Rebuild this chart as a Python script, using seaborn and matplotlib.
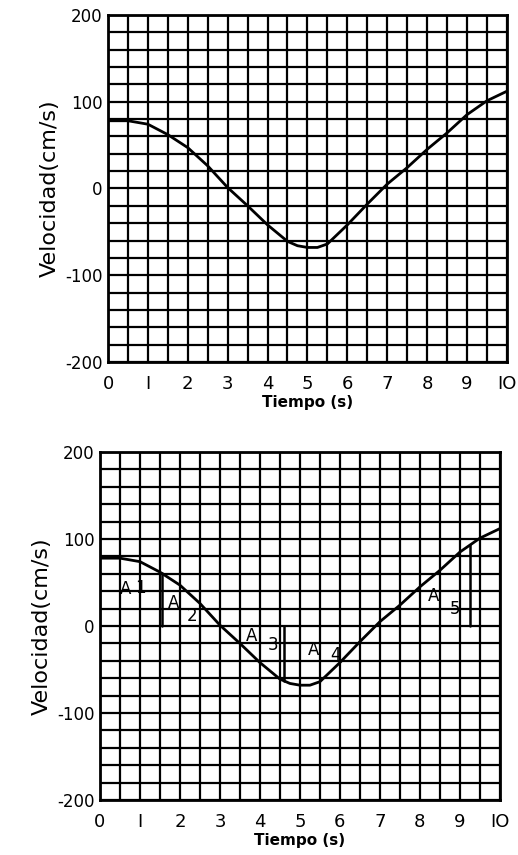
import numpy as np
import pandas as pd
import seaborn as sns
import matplotlib.pyplot as plt

# velocity curve (0.5 s steps, plus a few extra near the minimum)
tiempo = [0, 0.5, 1, 1.5, 2, 2.5, 3, 3.5, 4, 4.5, 4.75, 5, 5.25, 5.5, 5.75,
          6, 6.5, 7, 7.5, 8, 8.5, 9, 9.5, 10]
velocidad = [78, 78, 74, 62, 47, 26, 1, -20, -42, -61, -66, -68, -68, -64, -53,
             -42, -18, 5, 24, 45, 64, 85, 101, 112]

# area boundaries and labels for the lower panel
limites = [1.55, 4.6, 9.25]
area_names = ["A", "A", "A", "A", "A"]
area_nums = ["1", "2", "3", "4", "5"]
area_t = [0.63, 1.83, 3.8, 5.33, 8.33]
area_v = [43, 26, -12, -28, 34]
num_t = [1.0, 2.3, 4.33, 5.88, 8.88]
num_v = [44, 11, -22, -33, 20]

x_ticks = list(range(0, 11))
x_labels = ["0", "I", "2", "3", "4", "5", "6", "7", "8", "9", "IO"]
y_ticks = [-200, -100, 0, 100, 200]
y_labels = ["-200", "-100", "0", "100", "200"]

df = pd.DataFrame({"t": tiempo, "v": velocidad})

sns.set_style("white")
plt.rcParams['font.family'] = ['DejaVu Sans']
plt.rcParams['text.color'] = 'black'
plt.rcParams['axes.labelcolor'] = 'black'
plt.rcParams['xtick.color'] = 'black'
plt.rcParams['ytick.color'] = 'black'

fig = plt.figure(figsize=(5.18, 8.55), dpi=100)
ax1 = fig.add_axes([0.2085, 0.5766, 0.770, 0.406])
ax2 = fig.add_axes([0.193, 0.0643, 0.772, 0.407])


def style_axes(ax):
    ax.set_xlim(0, 10)
    ax.set_ylim(-200, 200)
    ax.set_xticks(x_ticks)
    ax.set_xticklabels(x_labels, fontsize=13)
    ax.set_yticks(y_ticks)
    ax.set_yticklabels(y_labels, fontsize=12)
    ax.set_xticks(np.arange(0, 10.01, 0.5), minor=True)
    ax.set_yticks(np.arange(-200, 201, 20), minor=True)
    ax.grid(True, which="both", color="black", linewidth=1.6)
    ax.tick_params(which="both", length=0)
    ax.tick_params(axis="x", pad=9)
    ax.tick_params(axis="y", pad=4)
    for s in ax.spines.values():
        s.set_color("black")
        s.set_linewidth(2)
    ax.set_xlabel("Tiempo (s)", fontsize=11, fontweight="bold", labelpad=2)
    ax.set_ylabel("Velocidad(cm/s)", fontsize=16, labelpad=4)
    ax.set_axisbelow(True)


for ax in (ax1, ax2):
    sns.lineplot(data=df, x="t", y="v", ax=ax, color="black", linewidth=2)
    style_axes(ax)

# vertical lines dividing the areas
for b in limites:
    vb = np.interp(b, tiempo, velocidad)
    ax2.plot([b, b], [0, vb], color="black", linewidth=1.8)

for i in range(len(area_names)):
    ax2.text(area_t[i], area_v[i], area_names[i], fontsize=12, ha="center", va="center")
    ax2.text(num_t[i], num_v[i], area_nums[i], fontsize=12, ha="center", va="center")

fig.savefig("out.png", dpi=100, facecolor="white")
